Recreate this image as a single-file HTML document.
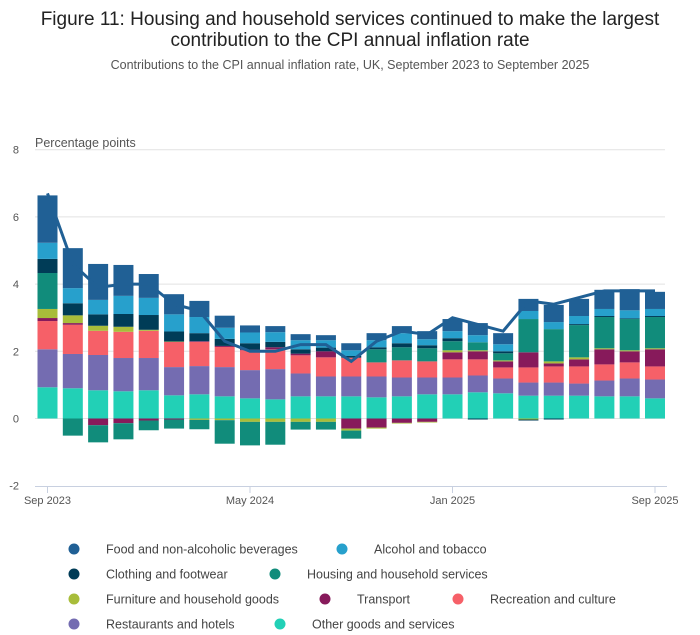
<!DOCTYPE html>
<html><head><meta charset="utf-8">
<style>
body{margin:0;background:#fff;font-family:"Liberation Sans",sans-serif;}
#wrap{position:relative;width:700px;height:635px;overflow:hidden;}
</style></head>
<body>
<div id="wrap">
<svg id="chart" width="700" height="635">
<text x="350" y="25" text-anchor="middle" font-size="19" fill="#222">Figure 11: Housing and household services continued to make the largest</text>
<text x="350" y="46" text-anchor="middle" font-size="19" fill="#222">contribution to the CPI annual inflation rate</text>
<text x="350" y="69" text-anchor="middle" font-size="12.5" fill="#555">Contributions to the CPI annual inflation rate, UK, September 2023 to September 2025</text>
<text x="35" y="147" font-size="12.5" fill="#555">Percentage points</text>
<g id="grid"></g><g id="bars"></g><g id="line"></g><g id="axis"></g><g id="legend"></g>
</svg>
</div>
<script>
const months = ["Sep 2023","Oct 2023","Nov 2023","Dec 2023","Jan 2024","Feb 2024","Mar 2024","Apr 2024","May 2024","Jun 2024","Jul 2024","Aug 2024","Sep 2024","Oct 2024","Nov 2024","Dec 2024","Jan 2025","Feb 2025","Mar 2025","Apr 2025","May 2025","Jun 2025","Jul 2025","Aug 2025","Sep 2025"];
const xTickLabels = ["Sep 2023","May 2024","Jan 2025","Sep 2025"];
const yTicks = [-2,0,2,4,6,8];
const seriesNames = ["Other goods and services","Restaurants and hotels","Recreation and culture","Transport","Furniture and household goods","Housing and household services","Clothing and footwear","Alcohol and tobacco","Food and non-alcoholic beverages"];
const otherGoods   = [0.93,0.90,0.84,0.81,0.84,0.69,0.72,0.66,0.60,0.57,0.66,0.66,0.66,0.63,0.66,0.72,0.72,0.78,0.75,0.68,0.68,0.68,0.66,0.66,0.60];
const restaurants  = [1.13,1.02,1.05,0.99,0.96,0.84,0.84,0.87,0.84,0.90,0.68,0.59,0.59,0.62,0.56,0.50,0.50,0.50,0.44,0.39,0.39,0.36,0.47,0.53,0.56];
const recreation   = [0.84,0.87,0.72,0.78,0.81,0.75,0.72,0.60,0.59,0.59,0.54,0.57,0.56,0.42,0.51,0.48,0.54,0.48,0.33,0.45,0.48,0.51,0.48,0.48,0.39];
const transport    = [0.09,0.05,-0.20,-0.14,-0.06,-0.03,0.02,0.03,0.02,0.06,0.05,0.18,-0.30,-0.27,-0.13,-0.10,0.21,0.24,0.18,0.45,0.09,0.21,0.45,0.33,0.51];
const furniture    = [0.27,0.23,0.15,0.15,0.03,0.01,-0.04,-0.05,-0.10,-0.10,-0.10,-0.10,-0.06,-0.03,-0.02,-0.02,0.06,0.03,0.03,-0.03,0.06,0.06,0.03,0.03,0.03];
const housing      = [1.07,-0.51,-0.51,-0.48,-0.29,-0.27,-0.28,-0.70,-0.70,-0.68,-0.23,-0.23,-0.24,0.39,0.39,0.39,0.27,0.24,0.21,0.99,0.96,0.96,0.93,0.93,0.93];
const clothing     = [0.42,0.36,0.34,0.38,0.44,0.30,0.24,0.21,0.19,0.16,0.13,0.11,0.05,0.06,0.12,0.09,0.09,-0.03,0.06,-0.03,-0.03,0.03,0.03,0.02,0.03];
const alcohol      = [0.48,0.45,0.43,0.54,0.51,0.51,0.48,0.33,0.32,0.29,0.27,0.22,0.17,0.21,0.30,0.18,0.21,0.21,0.21,0.24,0.21,0.24,0.21,0.24,0.21];
const food         = [1.41,1.19,1.07,0.92,0.71,0.60,0.48,0.36,0.21,0.18,0.18,0.15,0.21,0.21,0.21,0.24,0.36,0.36,0.33,0.36,0.51,0.51,0.57,0.63,0.51];
const cpiRate      = [6.7,4.6,3.9,4.0,4.0,3.4,3.2,2.3,2.0,2.0,2.2,2.2,1.7,2.3,2.6,2.5,3.0,2.8,2.6,3.5,3.4,3.6,3.8,3.8,3.8];

const colors = ["#22d0b6","#746cb1","#f66068","#871a5b","#a8bd3a","#118c7b","#003c57","#27a0cc","#206095"];
const series = [otherGoods,restaurants,recreation,transport,furniture,housing,clothing,alcohol,food];
const NS="http://www.w3.org/2000/svg";
const x0=47.5, x1=655, yZero=418.5, pxPer=33.6;
function xPos(i){return x0+(x1-x0)*i/(months.length-1);}
function yPos(v){return yZero-v*pxPer;}
function mk(tag,attrs,parent){const e=document.createElementNS(NS,tag);for(const k in attrs)e.setAttribute(k,attrs[k]);parent.appendChild(e);return e;}
const grid=document.getElementById('grid');
yTicks.forEach(t=>{
  if(t!==-2){const l=mk('line',{x1:35,x2:665,y1:yPos(t),y2:yPos(t),stroke:"#e2e2e2","stroke-width":1},grid);
  
  }
  const tx=mk('text',{x:19,y:yPos(t)+4,"text-anchor":"end","font-size":11,fill:"#555"},grid);
  tx.textContent=t;
  
  
});
const bars=document.getElementById('bars');
const bw=20;
months.forEach((m,i)=>{
  let pos=0,neg=0;
  series.forEach((s,k)=>{
    const v=s[i]; let y,h;
    if(v>=0){y=yPos(pos+v);h=v*pxPer;pos+=v;}else{y=yPos(neg);h=-v*pxPer;neg+=v;}
    const r=mk('rect',{x:xPos(i)-bw/2,y:y,width:bw,height:h,fill:colors[k]},bars);
    
    
  });
});
const lg=document.getElementById('line');
const pl=mk('polyline',{points:cpiRate.map((v,i)=>xPos(i)+","+yPos(v)).join(" "),fill:"none",stroke:"#206095","stroke-width":3,"stroke-linejoin":"miter"},lg);


const ax=document.getElementById('axis');
const al=mk('line',{x1:35,x2:667,y1:486.5,y2:486.5,stroke:"#c8d0e0","stroke-width":1},ax);


xTickLabels.forEach(lbl=>{
  const i=months.indexOf(lbl);
  const t=mk('line',{x1:xPos(i),x2:xPos(i),y1:486,y2:493,stroke:"#c8d0e0"},ax);
  
  
  const tx=mk('text',{x:xPos(i),y:504,"text-anchor":"middle","font-size":11,fill:"#555"},ax);
  tx.textContent=lbl;
  
  
});
const leg=document.getElementById('legend');
const legPos=[[8,74,549],[7,342,549],[6,74,574],[5,275,574],[4,74,599],[3,325,599],[2,458,599],[1,74,624],[0,280,624]];
legPos.forEach(([k,cx,cy])=>{
  const c=mk('circle',{cx:cx,cy:cy,r:5.5,fill:colors[k]},leg);
  
  
  const tx=mk('text',{x:cx+32,y:cy+4.5,"font-size":12.5,fill:"#444"},leg);
  tx.textContent=seriesNames[k];
  
  
});
</script>
</body></html>
